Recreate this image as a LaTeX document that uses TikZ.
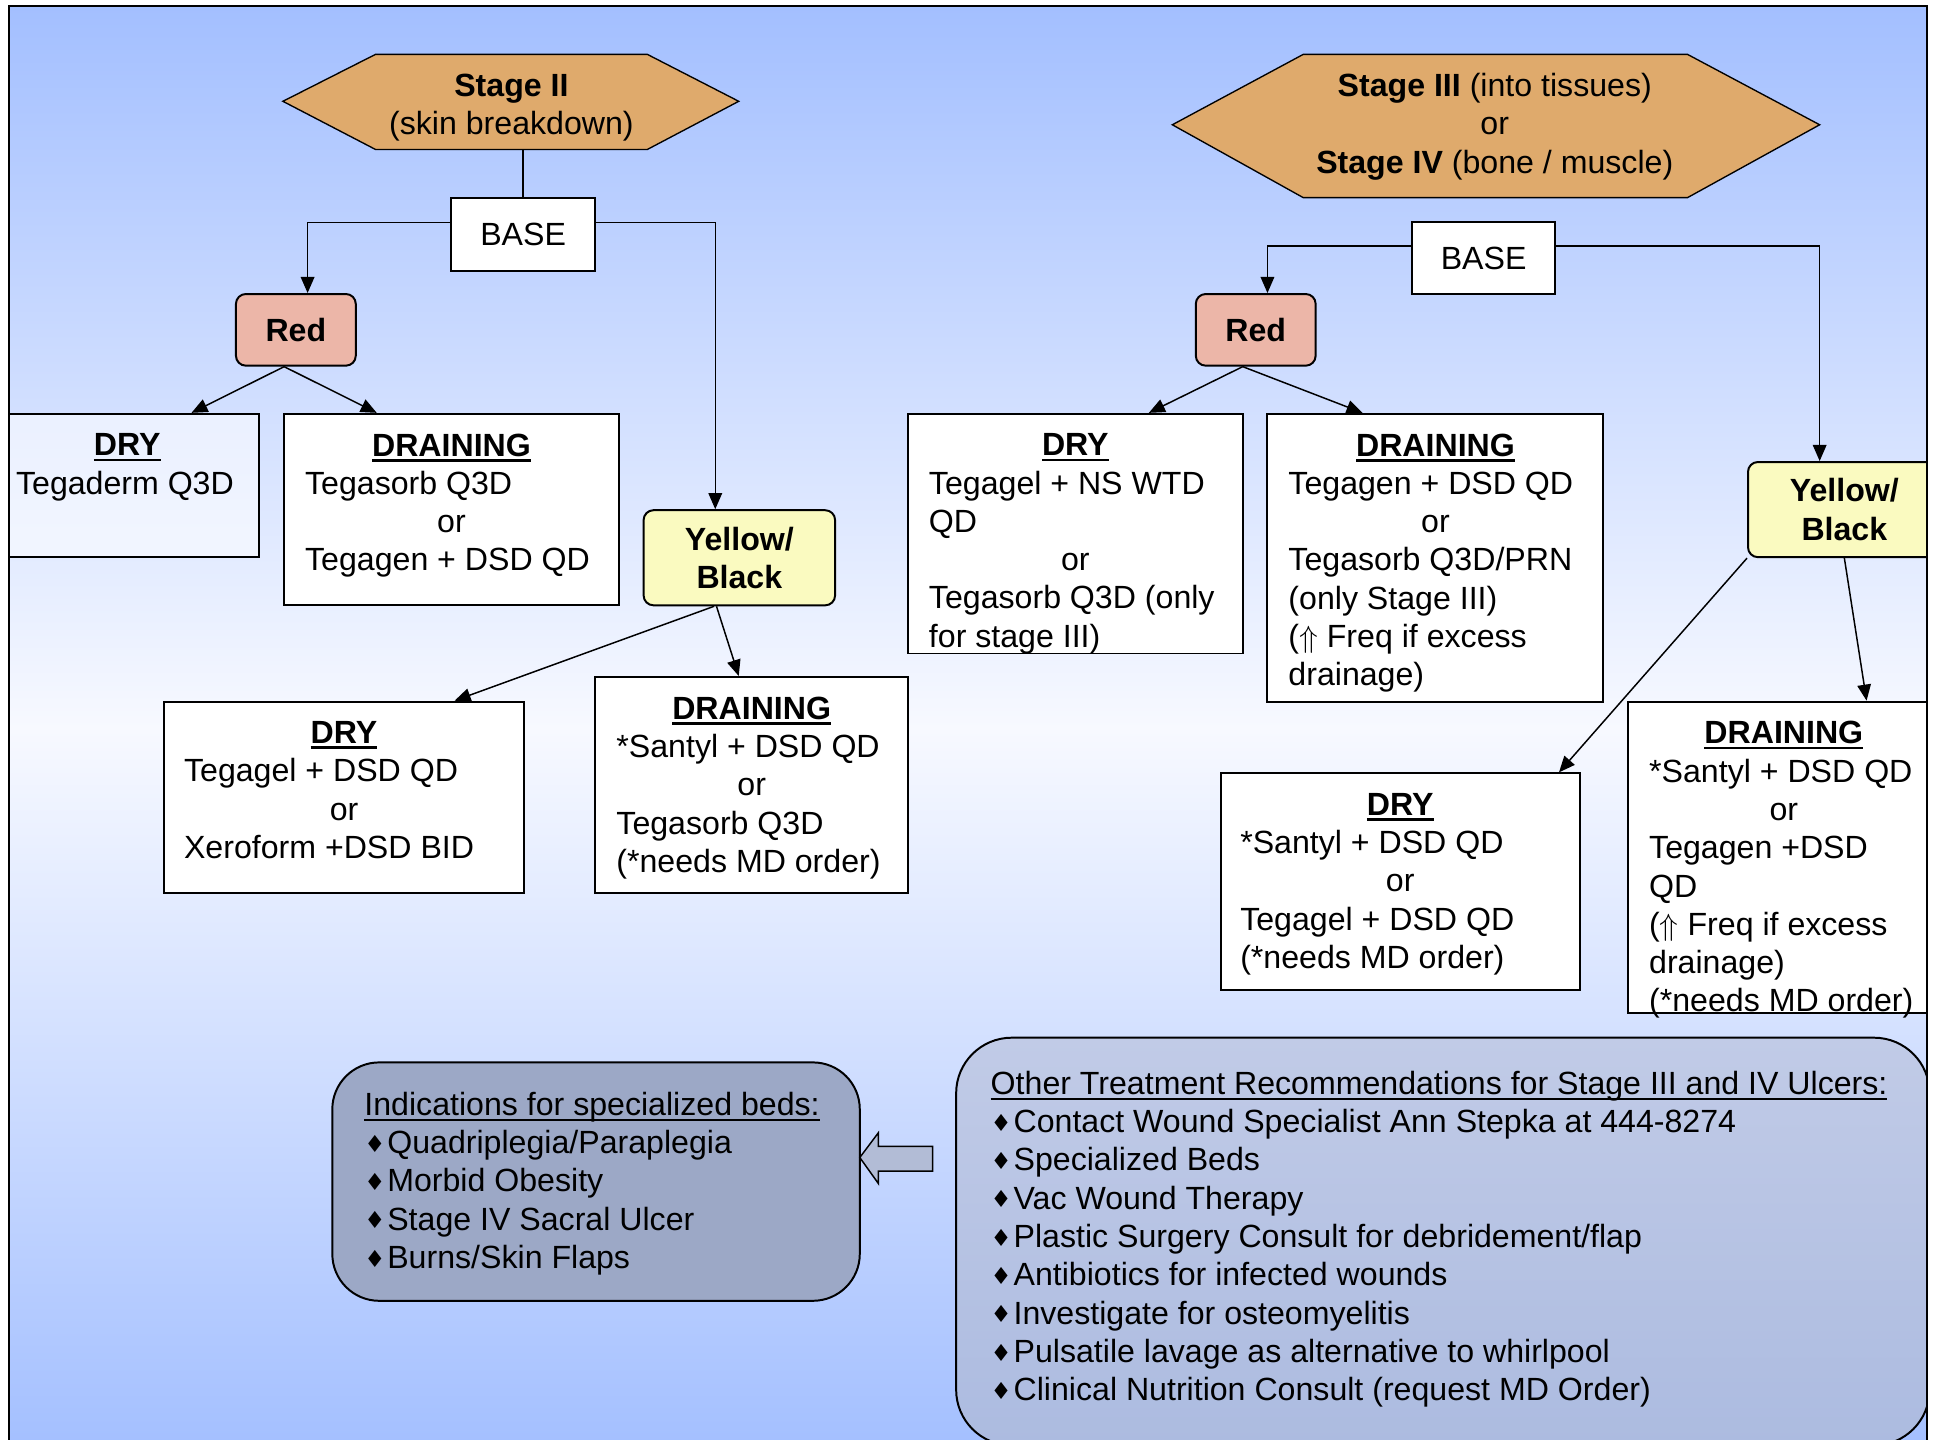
\documentclass[tikz,border=0pt]{standalone}
\usepackage{fontspec}
\setmainfont{Liberation Sans}
\newfontfamily\symf{DejaVu Sans}
\usetikzlibrary{arrows.meta}

\definecolor{bgblue}{RGB}{163,191,255}
\definecolor{bgpale}{RGB}{247,249,255}
\definecolor{hexfill}{RGB}{223,170,108}
\definecolor{redfill}{RGB}{236,182,168}
\definecolor{yelfill}{RGB}{250,250,192}
\definecolor{bedfill}{RGB}{156,168,198}
\definecolor{othertop}{RGB}{193,203,231}
\definecolor{otherbot}{RGB}{172,187,224}
\definecolor{arrfill}{RGB}{178,188,214}

% underline, box text and line helpers
\newcommand{\ulin}[2][2.2pt]{\leavevmode\setbox0\hbox{#2}\rlap{\rule[-4.5pt]{\wd0}{#1}}\box0}
\newcommand{\hdln}[1]{\makebox[\linewidth]{\ulin{\textbf{#1}}}}
\newcommand{\orln}{\makebox[\linewidth]{or}}
\newcommand{\bul}{{\symf\fontsize{19}{19}\selectfont\raisebox{1pt}{♦}}\kern1.5pt}
\newcommand{\txtbox}[3]{\parbox[c][#2][t]{#1}{\raggedright #3}}

\begin{document}
\begin{tikzpicture}[x=1pt,y=-1pt,
  every node/.style={font=\fontsize{26}{31}\selectfont},
  box/.style={draw,line width=1.6pt,fill=white,inner ysep=16pt,inner xsep=17pt},
  tag/.style={draw,line width=1.6pt,rounded corners=8pt,align=center,inner sep=0pt,
    font=\fontsize{26}{31}\selectfont\bfseries},
  basebox/.style={draw,line width=1.6pt,fill=white,inner sep=0pt},
  hexa/.style={draw,line width=1.1pt,fill=hexfill},
  line/.style={line width=1.2pt},
  conn/.style={line width=1.2pt,-{Triangle[length=13pt,width=11pt]}}]
\useasboundingbox (0,0) rectangle (1568,1165);
\fill[white] (0,0) rectangle (1568,1165);
\shade[top color=bgblue,bottom color=bgblue,middle color=bgpale] (7,5) rectangle (1560,1175);

\begin{scope}
\clip (7,5) rectangle (1560,1175);

% stage headers
\draw[hexa] (229,82) -- (304,44) -- (524,44) -- (598,82) -- (524,121) -- (304,121) -- cycle;
\node[align=center] (stage2) at (414,87) {\textbf{Stage II}\\(skin breakdown)};
\draw[hexa] (949,101) -- (1055,44) -- (1366,44) -- (1473,101) -- (1366,160) -- (1055,160) -- cycle;
\node[align=center] (stage34) at (1210,102.5) {\textbf{Stage III} (into tissues)\\or\\\textbf{Stage IV} (bone / muscle)};
\coordinate (hex1s) at (423.5,121);

% base and colour boxes
\node[basebox,minimum width=117pt,minimum height=59pt] (base1) at (423.5,189.5) {BASE};
\node[basebox,minimum width=116pt,minimum height=58pt] (base2) at (1201,209) {BASE};
\node[tag,fill=redfill,minimum width=97pt,minimum height=58pt] (red1) at (239.5,267) {Red};
\node[tag,fill=redfill,minimum width=97pt,minimum height=58pt] (red2) at (1016.5,267) {Red};
\node[tag,fill=yelfill,minimum width=155pt,minimum height=77pt] (yel1) at (598.5,451.5) {Yellow/\\Black};
\node[tag,fill=yelfill,minimum width=156pt,minimum height=77pt] (yel2) at (1493,412.5) {Yellow/\\Black};

% treatment boxes
\node[box,fill opacity=0.55,text opacity=1] (dry1) at (103,393)
  {\txtbox{180pt}{84pt}{\hdln{DRY}\\Tegaderm Q3D}};
\node[box] (drain1) at (365.5,412.5)
  {\txtbox{237pt}{123pt}{\hdln{DRAINING}\\Tegasorb Q3D\\\orln\\Tegagen + DSD QD}};
\node[box,inner xsep=16pt] (dry2) at (278.5,645.5)
  {\txtbox{259pt}{123pt}{\hdln{DRY}\\Tegagel + DSD QD\\\orln\\Xeroform +DSD BID}};
\node[box] (drain2) at (608.5,635.5)
  {\txtbox{219pt}{143pt}{\hdln{DRAINING}\\\relax*Santyl + DSD QD\\\orln\\Tegasorb Q3D\\(*needs MD order)}};
\node[box] (dry3) at (870.5,432)
  {\txtbox{237pt}{162pt}{\hdln{DRY}\\Tegagel + NS WTD\\QD\\\orln\\Tegasorb Q3D (only\\for stage III)}};
\node[box] (drain3) at (1162,451.5)
  {\txtbox{238pt}{201pt}{\hdln{DRAINING}\\Tegagen + DSD QD\\\orln\\Tegasorb Q3D/PRN\\(only Stage III)\\($\Uparrow$ Freq if excess\\drainage)}};
\node[box,inner xsep=16pt] (dry4) at (1133.5,713.5)
  {\txtbox{259pt}{143pt}{\hdln{DRY}\\\relax*Santyl + DSD QD\\\orln\\Tegagel + DSD QD\\(*needs MD order)}};
\node[box] (drain4) at (1444,694)
  {\txtbox{218pt}{220pt}{\hdln{DRAINING}\\\relax*Santyl + DSD QD\\\orln\\Tegagen +DSD\\QD\\($\Uparrow$ Freq if excess\\drainage)\\(*needs MD order)}};

% notes at the bottom
\node[draw,line width=1.6pt,rounded corners=38pt,fill=bedfill,inner xsep=26pt,inner ysep=24pt] (beds) at (482.5,956.5)
  {\txtbox{375pt}{145pt}{\ulin[1.4pt]{Indications for specialized beds:}\\\bul Quadriplegia/Paraplegia\\\bul Morbid Obesity\\\bul Stage IV Sacral Ulcer\\\bul Burns/Skin Flaps}};
\node[draw,line width=1.6pt,rounded corners=45pt,top color=othertop,bottom color=otherbot,inner xsep=28pt,inner ysep=27pt] (other) at (1168,1005)
  {\txtbox{732pt}{276pt}{\ulin[1.4pt]{Other Treatment Recommendations for Stage III and IV Ulcers:}\\\bul Contact Wound Specialist Ann Stepka at 444-8274\\\bul Specialized Beds\\\bul Vac Wound Therapy\\\bul Plastic Surgery Consult for debridement/flap\\\bul Antibiotics for infected wounds\\\bul Investigate for osteomyelitis\\\bul Pulsatile lavage as alternative to whirlpool\\\bul Clinical Nutrition Consult (request MD Order)}};
\draw[line,fill=arrfill] (696,937) -- (711,917) -- (711,928) -- (755,928) -- (755,948) -- (711,948) -- (711,958) -- cycle;

% connectors
\draw[line] (hex1s) -- (base1.north);
\draw[conn] ([yshift=9.5pt]base1.west) -| ([xshift=9.5pt]red1.north);
\draw[conn] ([yshift=9.5pt]base1.east) -| ([xshift=-19.5pt]yel1.north);
\draw[conn] ([yshift=10pt]base2.west) -| ([xshift=9.5pt]red2.north);
\draw[conn] ([yshift=10pt]base2.east) -| ([xshift=-20pt]yel2.north);
\draw[conn] ([xshift=-9.5pt]red1.south) -- ([xshift=52pt]dry1.north);
\draw[conn] ([xshift=-9.5pt]red1.south) -- ([xshift=-60.5pt]drain1.north);
\draw[conn] ([xshift=-20.5pt]yel1.south) -- ([xshift=89.5pt]dry2.north);
\draw[conn] ([xshift=-18.5pt]yel1.south) -- ([xshift=-10.5pt]drain2.north);
\draw[conn] ([xshift=-10.5pt]red2.south) -- ([xshift=59.5pt]dry3.north);
\draw[conn] ([xshift=-10.5pt]red2.south) -- ([xshift=-59pt]drain3.north);
\draw[conn] (yel2.south west) -- ([xshift=128.5pt]dry4.north);
\draw[conn] (yel2.south) -- ([xshift=67pt]drain4.north);
\end{scope}

\draw[line width=1.6pt] (7,1175) -- (7,5) -- (1560,5) -- (1560,1175);
\end{tikzpicture}
\end{document}
